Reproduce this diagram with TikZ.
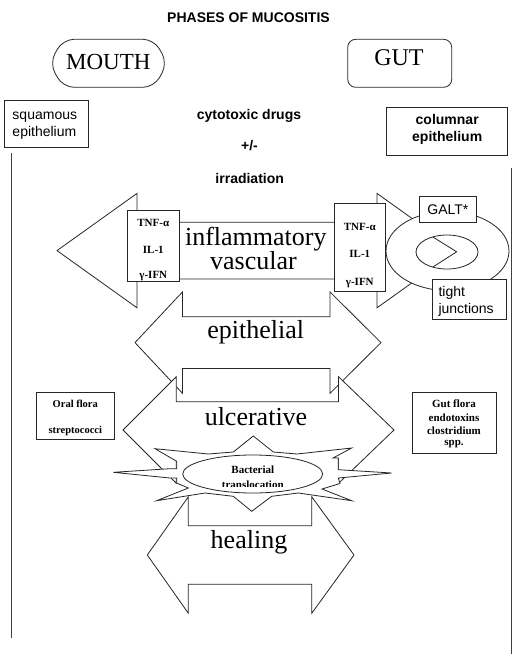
\documentclass[tikz,border=0pt]{standalone}
\usepackage{fontspec}
\setmainfont{Liberation Serif}
\newfontfamily\arialf{Liberation Sans}
\tikzset{
  ln/.style={draw=black!85, line width=0.8pt, line join=miter},
  shp/.style={ln, fill=white},
  sansb/.style={font=\arialf\bfseries\fontsize{14}{16}\selectfont, anchor=base, inner sep=0pt},
  sansr/.style={font=\arialf\fontsize{14}{16}\selectfont, anchor=base west, inner sep=0pt},
  bigw/.style={font=\fontsize{26}{28}\selectfont, anchor=base, inner sep=0pt},
  smallb/.style={font=\bfseries\fontsize{10.5}{11}\selectfont, anchor=base, inner sep=0pt},
  cytob/.style={smallb, font=\bfseries\fontsize{11}{12}\selectfont},
  sidebar/.style={draw=black!75, line width=1.3pt},
}
% double arrow: left tip, right tip, centre y, shaft half height, head half height, left back x, right back x
\newcommand{\mydarrow}[7]{%
  \draw[shp] (#1,#3) -- (#6,{#3-#5}) -- (#6,{#3-#4}) -- (#7,{#3-#4}) -- (#7,{#3-#5}) -- (#2,#3)
    -- (#7,{#3+#5}) -- (#7,{#3+#4}) -- (#6,{#3+#4}) -- (#6,{#3+#5}) -- cycle;}
\begin{document}
\begin{tikzpicture}[x=1pt,y=-1pt]
\useasboundingbox (0,0) rectangle (520,654);

% title
\node[sansb] (title) at (248.5,22.5) {PHASES OF MUCOSITIS};

% MOUTH / GUT
\draw[shp, rounded corners=11pt] (63,39.3) -- (154,39.3) -- (167.5,63.3) -- (154,87.3) -- (63,87.3) -- (49.5,63.3) -- cycle;
\node[font=\fontsize{23}{25}\selectfont, anchor=base, inner sep=0pt] (mouth) at (108.3,69.3) {MOUTH};
\draw[shp, rounded corners=8pt] (347.7,39.3) rectangle (451.7,87.3);
\node[font=\fontsize{24}{26}\selectfont, anchor=base, inner sep=0pt] (gut) at (399,65.7) {GUT};

% epithelium boxes
\draw[shp] (4.3,100.7) rectangle (88.3,147.3);
\node[sansr] (sq1) at (12.3,119) {squamous};
\node[sansr] (sq2) at (12.3,136) {epithelium};
\draw[shp] (386.7,107.3) rectangle (507.7,155);
\node[sansb] (col1) at (447.2,124.3) {columnar};
\node[sansb] (col2) at (447.2,141.7) {epithelium};

% causes
\node[sansb] (cyto) at (249,119) {cytotoxic drugs};
\node[sansb] (pm) at (249.5,150.7) {+/-};
\node[sansb] (irr) at (249.7,183.3) {irradiation};

% side lines
\coordinate (l1) at (11.7,153.3);
\coordinate (l2) at (11.7,638);
\coordinate (r1) at (511.7,168.3);
\coordinate (r2) at (511.7,654);
\draw[sidebar] (l1) -- (l2);
\draw[sidebar] (r1) -- (r2);

% inflammatory / vascular arrow
\mydarrow{57}{457}{250.6}{28.4}{57.2}{137}{377}
\draw[shp] (127.7,210) rectangle (179,281.7);
\node[cytob] (c1a) at (153.3,226.5) {TNF-α};
\node[cytob] (c1b) at (153.3,253) {IL-1};
\node[cytob] (c1c) at (153.3,278) {γ-IFN};
\draw[shp] (334,203.3) rectangle (385.7,291);
\node[cytob] (c2a) at (359.8,230.5) {TNF-α};
\node[cytob] (c2b) at (359.8,257.5) {IL-1};
\node[cytob] (c2c) at (359.8,285) {γ-IFN};
\node[bigw] (infl) at (255.8,245) {inflammatory};
\node[bigw] (vasc) at (253.5,269) {vascular};

% GALT ellipse
\draw[shp] (447.5,251) ellipse [x radius=61.5, y radius=39.5];
\draw[ln] (447,252) ellipse [x radius=31, y radius=17];
\draw[ln] (432.7,236.9) -- (456.7,251.8) -- (432.7,267.1);
\draw[shp] (419.3,196.7) rectangle (476.7,222.7);
\node[sansr, anchor=base] (galt) at (447.9,214.3) {GALT*};
\draw[shp] (432.3,279) rectangle (506.7,319.3);
\node[sansr] (tj1) at (438.3,296.7) {tight};
\node[sansr] (tj2) at (438.3,313.3) {junctions};

% epithelial
\mydarrow{135}{381}{342.6}{25.8}{50.7}{182.5}{330}
\node[bigw] (epi) at (255.7,338.3) {epithelial};

% ulcerative
\mydarrow{123}{394}{430}{28.3}{53.3}{176.3}{338.5}
\node[bigw] (ulc) at (256,425) {ulcerative};

% flora boxes
\draw[shp] (36.7,392.7) rectangle (114,439.3);
\node[smallb] (of1) at (75.3,407.3) {Oral flora};
\node[smallb] (of2) at (75.3,433.3) {streptococci};
\draw[shp] (412.3,392.7) rectangle (496,453.3);
\node[cytob] (gf1) at (454,407) {Gut flora};
\node[cytob] (gf2) at (454,421.5) {endotoxins};
\node[cytob] (gf3) at (454,434) {clostridium};
\node[cytob] (gf4) at (454,445.5) {spp.};

% healing
\mydarrow{147.3}{354}{555}{29.3}{58.2}{188.3}{311.8}
\node[bigw] (heal) at (249,548) {healing};

% bacterial translocation burst
\draw[shp] (253.3,436) -- (273.3,452) -- (297,454) -- (351.7,448) -- (333,458) -- (338.3,458)
  -- (338.3,469.7) -- (391.7,473) -- (338.3,478) -- (340,483.5) -- (322,489) -- (351.7,500.7)
  -- (298.3,493) -- (271.7,496.3) -- (251.7,511.3) -- (233.3,496.3) -- (205,493) -- (156.7,500.7)
  -- (188.3,488) -- (176.7,483) -- (176.7,478) -- (170,478) -- (113.3,472.3) -- (170,468.7)
  -- (176.7,468.7) -- (176.7,461.3) -- (155,448.7) -- (208.3,454) -- (233.3,452) -- cycle;
\draw[shp] (252.7,474) ellipse [x radius=70, y radius=19];
\node[cytob] (bt1) at (252.8,473.7) {Bacterial};
\begin{scope}
  \clip (150,440) rectangle (360,486.3);
  \node[cytob] (bt2) at (252.8,488.5) {translocation};
\end{scope}
\end{tikzpicture}
\end{document}
